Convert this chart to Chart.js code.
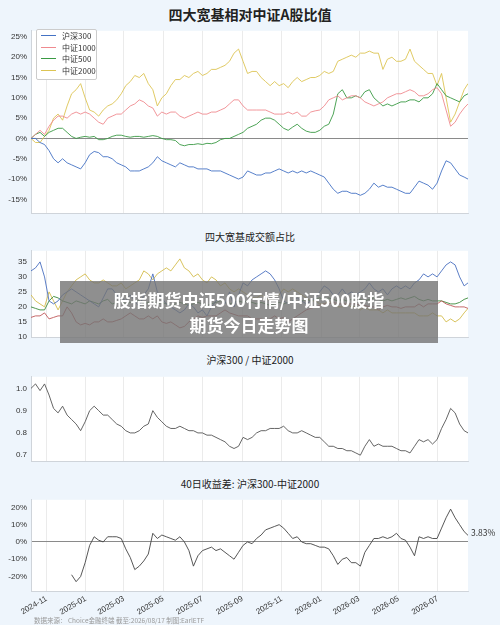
<!DOCTYPE html>
<html><head><meta charset="utf-8">
<script src="https://cdn.jsdelivr.net/npm/chart.js@4"></script>
<style>
body{margin:0;width:500px;height:625px;background:#eef5fc;font-family:"Noto Sans CJK SC","Noto Sans",sans-serif;position:relative;overflow:hidden}
.box{position:absolute;left:0;width:500px}
.t{position:absolute;left:0;width:500px;text-align:center;color:#222}
#legend{position:absolute;left:36px;top:29px;width:59px;height:49px;border:1px solid #ccc;background:#fff;font-size:8px;color:#333;border-radius:2px}
#legend div{height:11.5px;line-height:11.5px;padding-left:4px;display:flex;align-items:center}
#legend span{display:inline-block;width:15px;height:1px;margin-right:6px}
#banner{position:absolute;left:60px;top:281px;width:378px;height:62px;background:rgba(115,115,115,0.8);color:#fff;font-weight:bold;font-size:17px;text-align:center;line-height:25px;padding-top:6px;box-sizing:border-box}
</style></head><body>
<div class="t" style="top:4px;font-size:14px;font-weight:bold">四大宽基相对中证A股比值</div>
<div class="box" style="top:22px;height:200px"><canvas id="c1"></canvas></div>
<div id="legend"><div><span style="background:#4472c4"></span>沪深300</div><div><span style="background:#ef8a8f"></span>中证1000</div><div><span style="background:#3a9a44"></span>中证500</div><div><span style="background:#dcc453"></span>中证2000</div></div>
<div class="t" style="top:229px;font-size:10px">四大宽基成交额占比</div>
<div class="box" style="top:242px;height:104px"><canvas id="c2"></canvas></div>
<div class="t" style="top:352px;font-size:10px">沪深300 / 中证2000</div>
<div class="box" style="top:368px;height:102px"><canvas id="c3"></canvas></div>
<div class="t" style="top:476px;font-size:10px">40日收益差: 沪深300-中证2000</div>
<div class="box" style="top:491px;height:128px"><canvas id="c4"></canvas></div>
<div style="position:absolute;left:471px;top:526px;font-size:8.5px;color:#333">3.83%</div>
<div style="position:absolute;left:34px;top:615px;font-size:6.5px;color:#999">数据来源：&nbsp;Choice金融终端 截至:2026/08/17 制图:EarlETF</div>
<div id="banner">股指期货中证500行情/中证500股指<br>期货今日走势图</div>
<script>
const monthDays=[24,85,144,205,266,328,389,450,509,570,631];
const tickLabels=['2024-11','2025-01','2025-03','2025-05','2025-07','2025-09','2025-11','2026-01','2026-03','2026-05','2026-07'];
const days=[];for(let w=0;w<=96;w++)days.push(w*7);days.push(678);

const hs300=[0,0,-1,-1.5,-3,-5,-6,-5,-6,-6.5, -7,-7.5,-6,-4,-3.2,-3.5,-4.5,-4.5,-5,-6, -6.5,-7,-8,-8,-8,-7.5,-7,-6,-4.5,-5.5, -6,-6.5,-7,-6,-6.5,-7,-7,-7.5,-7.5,-7.5, -8,-8,-8,-8.5,-9,-9.5,-10,-9.5,-8,-8.5, -9,-9,-8.5,-8.5,-8,-7.5,-8,-8.5,-8,-8.5, -8,-8.5,-8,-8.5,-9,-9.5,-11,-12.5,-13.5,-13, -13,-13.5,-13.5,-14,-13.5,-12.5,-11,-12,-11.5,-12, -12,-12.5,-13,-13.5,-13.5,-12,-10.5,-11,-11.5,-12.5, -11,-8,-5.5,-6,-7.5,-9,-9.5,-10];
const zz1000=[0,1,2,1,3,4.5,5.5,5.5,5,6, 6.5,6,6.5,6,5,4,3.5,5,5.5,6, 6,7,8,8.5,9.5,9,8,7.5,5.5,6.5, 6,6.5,6.5,5.5,5,5.5,6,6.5,6,6, 6.5,6.5,7,7.5,8.5,9.5,9.5,8,7,7, 7,7,7,6.5,6,6,6,6.5,6,6.5, 5.5,5.5,6.5,6.8,7,8,9.5,10,10.5,9.5, 10,10.5,10.5,10,9,8.5,8,8.5,9,10, 10.5,11,11,11.5,12,11.5,10.5,10.5,11,12, 12.5,11,7,3,4,6,7.5,8.5];
const zz500=[0,1,1.5,0.5,1.5,2,2.5,2.5,1.5,0.5, 0,0.3,0.5,0.3,0.5,-0.3,-0.3,0,0.5,0.8, 0.8,0.5,0.3,0.5,0.5,0.3,0.5,0.7,0.5,0, -0.3,-0.3,-0.5,-1.5,-1.8,-1.5,-1.5,-1.3,-1.5,-1.2, -1.3,-1,-0.3,0,0,0.5,1,1.5,2.5,3, 3.5,4.5,5,5,4.5,3.5,2.5,2,2.8,3.5, 2.5,1.8,1.5,1.5,2,3,3.5,6,11,12, 10,10,10.5,10,11.5,12,10,9,8,8.5, 8,8.5,9,9,9.5,9.5,9,10,10,11, 13.5,12,10.5,10,9.5,9,10.5,11];
const zz2000=[0,-1,-1,0.5,2,5,6,4.5,8,11, 12,13.5,10,7,6.5,5.5,7,8,8.5,9.5, 11,13,14,15.5,15,16,13.5,12,8,10, 11,13,14.5,14.5,15.5,15,16,16.5,15.5,16, 17,17,17.5,18,19,21,22,19,16,16.5, 16.5,15,14,13,14,13,13.5,12.5,14,15, 14,14.5,15,15,15.5,16.5,16,16.5,19,19.5, 20,20.5,20,21,21,21.5,21,21,17,19.5, 20,19,19,19.5,22,19,18,17,16,16, 13,16,10,4,6,9,12,13.5];

const vol300=[32,33,35,30,22,21,22,24,25,26, 25,24,23,22,21,20,23,26,26,24, 23,22,24,22,20,24,26,31,25,23, 21,20,19,18,19,21,20,18,19,17, 20,22,23,21,25,20,24,28,27,29, 30,31,32,31,29,26,22,21,22,23, 22,21,22,23,25,27,26,24,24,26, 24,25,24,25,26,28,26,25,26,24, 26,27,26,27,26,28,29,31,30,31, 30,32,34,35,34,30,27,28];
const vol1000=[16.5,17,17,18,16,16.5,17,17,20,18, 15,14,14.5,14,15,15,16,15,15,15.5, 16,17,18,17,16,16,17,16,17,15, 14.5,15,14,13,13.5,15,16,17,16.5,17, 17,17,18,19,18,17.5,17,17,17,16, 16,16,15.5,16,17,16,16.5,15,16,17, 18,19,19.5,20,20.5,21,21,21.5,21,21, 21,21,21,20.5,20.5,20,20,19,20,20.5, 20,20,19.5,20,20,20,21,20,21,21, 21,22,21,20.5,20,20,20,19.5];
const vol500=[20,19.5,19,19,22,23.5,23,22,21.5,21, 22,21.5,21,22,21.5,21,22,22.5,21,21.5, 22,21,21.5,22,22,21,21.5,22,21,21.5, 21,20.5,21,21.5,21,20.5,21,21.5,21,20.5, 21,21.5,22,21.5,21,21.5,22,21.5,22,21.5, 21,21.5,21,20.5,21,21.5,21,21.5,22,21.5, 22,22.5,22,22.5,23,22.5,23,22.5,22,22.5, 22,22.5,23,22.5,22,22.5,23,22.5,22,22.5, 22,22.5,23,22.5,23,23.5,22.5,22,22.5,22, 22,22,21.5,21,21,21.5,22.5,23];
const vol2000=[24,22,21,20,25,22,19,22,25,27, 29,30,31,29,28,28,29,28,27,27, 28,26,27,28,29,32,31,29,31,32, 33,32,34,36,33,32,30,31,29,28, 30,29,27,28,26,25,26,25,24,23, 23,24,23,22,24,24,26,25,26,25, 24,23,22,22,21,21,22,21,20,20, 21,20,20,19,20,19,19,19,18,19, 18,18,18,18,18,18,17,17,17,18, 17,17,15,16,15,16,18,19.5];

const ratio=[1.0,1.02,0.99,1.02,0.97,0.91,0.89,0.92,0.88,0.86, 0.84,0.81,0.85,0.9,0.92,0.9,0.88,0.88,0.86,0.84, 0.83,0.81,0.8,0.8,0.81,0.83,0.84,0.9,0.87,0.85, 0.83,0.82,0.82,0.83,0.82,0.81,0.81,0.8,0.8,0.79, 0.79,0.78,0.77,0.76,0.74,0.73,0.74,0.78,0.77,0.78, 0.8,0.81,0.81,0.82,0.82,0.82,0.83,0.81,0.8,0.8, 0.81,0.8,0.79,0.78,0.78,0.76,0.74,0.74,0.73,0.73, 0.72,0.72,0.71,0.7,0.74,0.77,0.74,0.75,0.74,0.74, 0.74,0.73,0.72,0.72,0.71,0.74,0.77,0.76,0.77,0.75, 0.77,0.82,0.86,0.91,0.89,0.84,0.81,0.8];

const diff40=[null,null,null,null,null,null,null,null,null,-19, -23,-20,-12,-2,3,1,0,3,3,3, 2,-4,-9,-16,-14,-11,-7,5,2,4, 3,2,1,3,0,-5,-14,-8,-5,-4, -3,-5,-4,-6,-8,-10,-6,-2,0,-1, 2,4,7,8,9,10,8,5,2,3, 0,-1,-1,-2,-3,-3,-4,-8,-13,-10, -9,-12,-12,-14,-6,-2,2,2,3,2, 3,5,2,1,-3,-8,3,2,3,2, 2,8,14,19,14,10,6,3.83];

const bgPlugin={id:'bg',beforeDraw(c){const a=c.chartArea,x=c.ctx;x.save();x.fillStyle='#fff';x.fillRect(a.left,a.top,a.right-a.left,a.bottom-a.top);x.restore();}};
function pts(arr){return days.map((d,i)=>({x:d,y:arr[i]}));}
function ds(arr,color,w){return {data:pts(arr),borderColor:color,borderWidth:w||0.9,pointRadius:0,tension:0,fill:false};}
function make(id,sets,y,showX,zero){
  new Chart(document.getElementById(id),{type:'line',data:{datasets:sets},plugins:[bgPlugin],
  options:{responsive:true,maintainAspectRatio:false,animation:false,layout:{padding:{top:4,right:32,left:0,bottom:0}},
   plugins:{legend:{display:false},tooltip:{enabled:false}},
   scales:{
    x:{type:'linear',min:0,max:678,
      afterBuildTicks(s){s.ticks=monthDays.map(v=>({value:v}));},
      afterFit(s){s.height=showX?28:4;},
      grid:{color:'#e6e6e6',lineWidth:0.8,drawTicks:false},border:{color:'#cfd4da'},
      ticks:{display:showX,autoSkip:false,maxRotation:30,minRotation:30,padding:3,color:'#333',font:{size:8},
        callback(v){const i=monthDays.indexOf(v);return i>=0?tickLabels[i]:'';}}},
    y:{min:y.min,max:y.max,afterFit(s){s.width=31;},
      afterBuildTicks(s){s.ticks=y.ticks.map(v=>({value:v}));},
      grid:{drawTicks:false,lineWidth:1,color(c){return zero&&c.tick&&c.tick.value===0?'#8a8a8a':'rgba(0,0,0,0)';}},
      border:{color:'#cfd4da'},
      ticks:{padding:4,color:'#333',font:{size:8},callback:y.fmt}}
   }}});
}
const pct=v=>v+'%';
make('c1',[ds(hs300,'#4472c4'),ds(zz1000,'#ef8a8f'),ds(zz500,'#3a9a44'),ds(zz2000,'#dcc453')],
  {min:-18.4,max:26.5,ticks:[-15,-10,-5,0,5,10,15,20,25],fmt:pct},false,true);
make('c2',[ds(vol300,'#4a6fc0'),ds(vol1000,'#c0585a'),ds(vol500,'#3a8a3a'),ds(vol2000,'#d4bc4c')],
  {min:9.9,max:38.7,ticks:[10,15,20,25,30,35],fmt:v=>v},false,false);
make('c3',[ds(ratio,'#555',0.9)],{min:0.673,max:1.052,ticks:[0.7,0.8,0.9,1.0],fmt:v=>v.toFixed(1)},false,false);
make('c4',[ds(diff40,'#444',0.9)],{min:-28.4,max:24.4,ticks:[-20,-10,0,10,20],fmt:pct},true,true);
</script>
</body></html>
